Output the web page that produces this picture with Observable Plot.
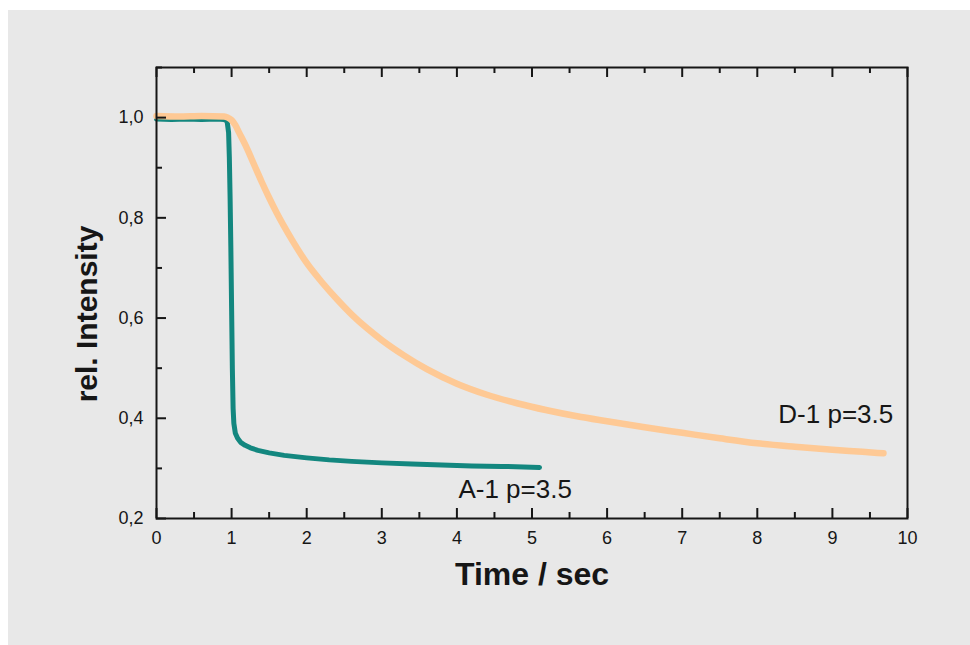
<!DOCTYPE html>
<html>
<head>
<meta charset="utf-8">
<script src="https://cdn.jsdelivr.net/npm/d3@7"></script>
<script src="https://cdn.jsdelivr.net/npm/@observablehq/plot@0.6"></script>
<style>
  html, body { margin: 0; padding: 0; background: #ffffff; }
  #wrap { position: absolute; left: 8px; top: 10px; width: 962px; height: 635px; background: #e8e8e8; }
  #wrap svg { display: block; background: transparent; }
</style>
</head>
<body>
<div id="wrap"></div>
<script>
// Series A-1 p=3.5 (teal)
const timeA = [0, 0.2, 0.4, 0.6, 0.8, 0.9, 0.94, 0.96, 0.97, 0.98, 0.99, 1.0, 1.01, 1.02, 1.03, 1.05, 1.08, 1.12, 1.18, 1.25, 1.35, 1.5, 1.7, 2.0, 2.3, 2.6, 3.0, 3.4, 3.8, 4.2, 4.6, 5.1];
const intensityA = [0.997, 0.996, 0.997, 0.996, 0.997, 0.996, 0.993, 0.97, 0.92, 0.84, 0.74, 0.62, 0.50, 0.42, 0.39, 0.37, 0.36, 0.352, 0.346, 0.341, 0.336, 0.331, 0.326, 0.321, 0.317, 0.314, 0.311, 0.309, 0.307, 0.305, 0.304, 0.302];

// Series D-1 p=3.5 (peach)
const timeD = [0, 0.3, 0.6, 0.9, 0.95, 1.0, 1.05, 1.1, 1.2, 1.3, 1.4, 1.5, 1.6, 1.8, 2.0, 2.2, 2.4, 2.6, 2.8, 3.0, 3.3, 3.6, 4.0, 4.4, 4.8, 5.2, 5.6, 6.0, 6.5, 7.0, 7.5, 8.0, 8.5, 9.0, 9.4, 9.68];
const intensityD = [1.003, 1.002, 1.003, 1.002, 1.0, 0.995, 0.985, 0.97, 0.94, 0.906, 0.872, 0.84, 0.81, 0.757, 0.71, 0.672, 0.638, 0.607, 0.58, 0.556, 0.525, 0.498, 0.469, 0.447, 0.43, 0.416, 0.404, 0.394, 0.382, 0.371, 0.36, 0.35, 0.343, 0.337, 0.333, 0.330];

// Ticks
const xMajor = [0, 1, 2, 3, 4, 5, 6, 7, 8, 9, 10];
const xMinor = [0.5, 1.5, 2.5, 3.5, 4.5, 5.5, 6.5, 7.5, 8.5, 9.5];
const yMajor = [0.2, 0.4, 0.6, 0.8, 1.0];
const yMinor = [0.3, 0.5, 0.7, 0.9, 1.1];

// Labels
const seriesLabels = [
  {t: 8.28, v: 0.408, text: "D-1 p=3.5"},
  {t: 4.02, v: 0.258, text: "A-1 p=3.5"}
];
const xTitle = "Time / sec";
const yTitle = "rel. Intensity";

const dataA = timeA.map((t, i) => ({t, v: intensityA[i]}));
const dataD = timeD.map((t, i) => ({t, v: intensityD[i]}));

const ink = "#161616";
const chart = Plot.plot({
  width: 962,
  height: 635,
  marginLeft: 148,
  marginRight: 63,
  marginTop: 57,
  marginBottom: 127,
  style: {fontFamily: "'Liberation Sans', Arial, sans-serif", background: "transparent", color: ink},
  x: {domain: [0, 10]},
  y: {domain: [0.2, 1.1]},
  marks: [
    Plot.line(dataA, {x: "t", y: "v", stroke: "#13877f", strokeWidth: 5, curve: "linear"}),
    Plot.line(dataD, {x: "t", y: "v", stroke: "#fec995", strokeWidth: 6.5, curve: "monotone-x"}),
    // bottom ticks (inward)
    Plot.ruleX(xMajor, {x: d => d, y1: 0.2, y2: 0.2, insetTop: -10, stroke: ink, strokeWidth: 2}),
    Plot.ruleX(xMinor, {x: d => d, y1: 0.2, y2: 0.2, insetTop: -6, stroke: ink, strokeWidth: 2}),
    // top ticks (inward)
    Plot.ruleX(xMajor, {x: d => d, y1: 1.1, y2: 1.1, insetBottom: -10, stroke: ink, strokeWidth: 2}),
    Plot.ruleX(xMinor, {x: d => d, y1: 1.1, y2: 1.1, insetBottom: -6, stroke: ink, strokeWidth: 2}),
    // left ticks (inward)
    Plot.ruleY(yMajor, {y: d => d, x1: 0, x2: 0, insetRight: -10, stroke: ink, strokeWidth: 2}),
    Plot.ruleY(yMinor, {y: d => d, x1: 0, x2: 0, insetRight: -6, stroke: ink, strokeWidth: 2}),
    Plot.axisX({ticks: xMajor, tickSize: 0, tickPadding: 13, fontSize: 18, label: null, tickFormat: d => String(d)}),
    Plot.axisY({ticks: yMajor, tickSize: 0, tickPadding: 13, fontSize: 18, label: null, tickFormat: d => d3.format(".1f")(d).replace(".", ",")}),
    Plot.frame({stroke: ink, strokeWidth: 2}),
    Plot.text(seriesLabels, {x: "t", y: "v", text: "text", textAnchor: "start", fontSize: 26, fill: ink}),
    Plot.text([xTitle], {frameAnchor: "bottom", lineAnchor: "middle", textAnchor: "middle", dy: 56, fontSize: 32, fontWeight: "bold", fill: ink}),
    Plot.text([yTitle], {frameAnchor: "left", lineAnchor: "middle", textAnchor: "middle", dx: -69, dy: 21, rotate: -90, fontSize: 30, fontWeight: "bold", fill: ink})
  ]
});
document.getElementById("wrap").appendChild(chart);
</script>
</body>
</html>
